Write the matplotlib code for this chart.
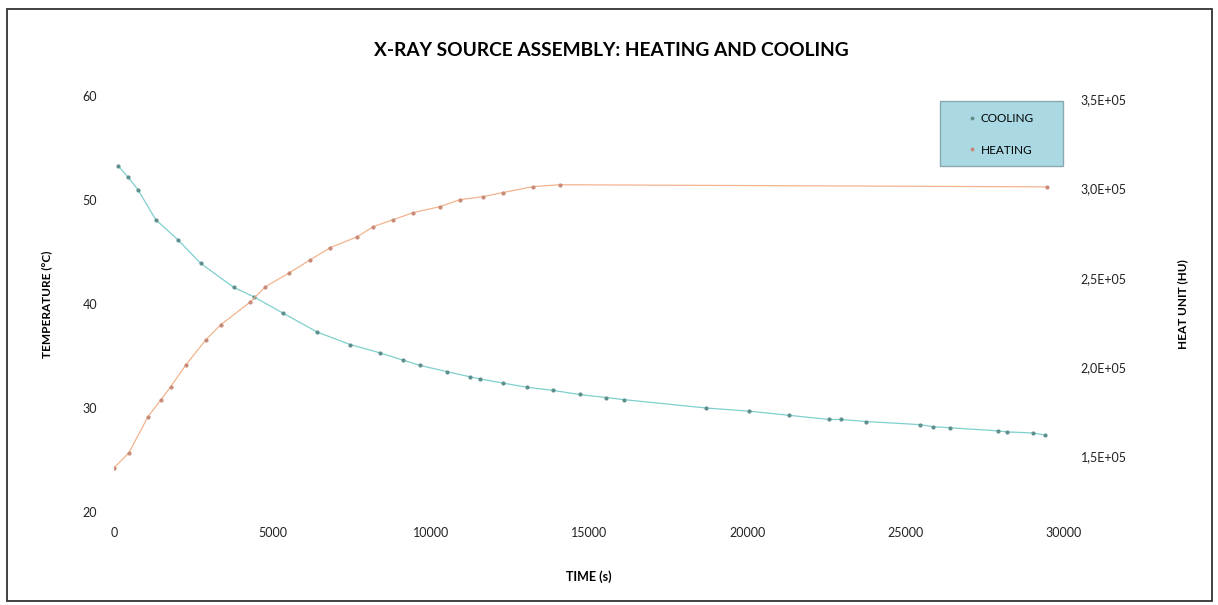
import matplotlib.pyplot as plt
from matplotlib.patches import Rectangle
from matplotlib.ticker import FixedLocator, FuncFormatter

plt.rcParams["font.family"] = ["Lato", "DejaVu Sans"]

# cooling: time (s) vs temperature (°C), left axis
cool_t = [130, 440, 755, 1320, 2010, 2740, 3780, 4410, 5350, 6420, 7460,
          8400, 9130, 9660, 10510, 11240, 11550, 12280, 13030, 13850, 14700,
          15550, 16120, 18700, 20050, 21310, 22570, 22950, 23760, 25460,
          25870, 26410, 27920, 28200, 29020, 29400]
cool_temp = [53.3, 52.2, 51.0, 48.1, 46.2, 43.9, 41.6, 40.7, 39.1, 37.3, 36.1,
             35.3, 34.6, 34.1, 33.5, 33.0, 32.8, 32.4, 32.0, 31.7, 31.3,
             31.0, 30.8, 30.0, 29.7, 29.3, 28.9, 28.9, 28.7, 28.4,
             28.2, 28.1, 27.8, 27.7, 27.6, 27.4]

# heating: time (s) vs heat units (HU), right axis
heat_t = [0, 470, 1070, 1480, 1790, 2270, 2900, 3370, 4310, 4780, 5540,
          6200, 6830, 7680, 8190, 8820, 9440, 10290, 10920, 11650, 12280,
          13220, 14070, 29460]
heat_hu = [1.433e5, 1.517e5, 1.719e5, 1.815e5, 1.888e5, 2.011e5, 2.152e5,
           2.236e5, 2.365e5, 2.449e5, 2.528e5, 2.601e5, 2.669e5, 2.730e5,
           2.787e5, 2.826e5, 2.865e5, 2.899e5, 2.938e5, 2.955e5, 2.978e5,
           3.011e5, 3.022e5, 3.010e5]

x_ticks = [0, 5000, 10000, 15000, 20000, 25000, 30000]
temp_ticks = [20, 30, 40, 50, 60]
hu_ticks = [1.5e5, 2.0e5, 2.5e5, 3.0e5, 3.5e5]

fig = plt.figure(figsize=(12.18, 6.05), dpi=100)
ax = fig.add_axes([0.0936, 0.1537, 0.78, 0.6876])
ax2 = ax.twinx()

ax.plot(cool_t, cool_temp, color="#7fd0cc", lw=0.9, marker="o", ms=2.0,
        mfc="#5e8f8d", mec="#5e8f8d", label="COOLING", zorder=3)
ax2.plot(heat_t, heat_hu, color="#f2b48e", lw=0.9, marker="o", ms=2.0,
         mfc="#c98a78", mec="#c98a78", label="HEATING", zorder=3)

ax.set_xlim(0, 30000)
ax.set_ylim(20, 60)
ax2.set_ylim(1.185e5, 3.52e5)

ax.xaxis.set_major_locator(FixedLocator(x_ticks))
ax.yaxis.set_major_locator(FixedLocator(temp_ticks))
ax2.yaxis.set_major_locator(FixedLocator(hu_ticks))
ax2.yaxis.set_major_formatter(
    FuncFormatter(lambda v, p: f"{v / 1e5:.1f}E+05".replace(".", ",")))

for a in (ax, ax2):
    for s in a.spines.values():
        s.set_visible(False)
    a.tick_params(length=0, labelsize=9, colors="#222222")
ax.tick_params(axis="x", pad=11)
ax.tick_params(axis="y", pad=12)
ax2.tick_params(axis="y", pad=12)

ax.set_xlabel("TIME (s)", fontsize=9, fontweight="bold", labelpad=22)
ax.set_ylabel("TEMPERATURE (°C)", fontsize=8.5, fontweight="bold", labelpad=22)
ax2.set_ylabel("HEAT UNIT (HU)", fontsize=8.5, fontweight="bold",
               rotation=90, labelpad=36)

fig.text(0.502, 0.917, "X-RAY SOURCE ASSEMBLY: HEATING AND COOLING",
         ha="center", va="center", fontsize=13.8, fontweight="bold")

# legend box drawn separately so its size can match the original
ax2.add_patch(Rectangle((0.869, 0.832), 0.13, 0.156, transform=ax2.transAxes,
                        facecolor="#aad9e3", edgecolor="#8aa9b0", lw=1.0,
                        zorder=4, clip_on=False))
h1, l1 = ax.get_legend_handles_labels()
h2, l2 = ax2.get_legend_handles_labels()
leg = ax2.legend(h1 + h2, l1 + l2, loc="center left",
                 bbox_to_anchor=(0.895, 0.908), fontsize=8.5, frameon=False,
                 handlelength=0.5, markerscale=0.9, labelspacing=1.75,
                 handletextpad=0.5, borderaxespad=0)
leg.set_zorder(5)
for line in leg.get_lines():
    line.set_linestyle("none")

fig.add_artist(Rectangle((0.006, 0.007), 0.989, 0.978,
                         transform=fig.transFigure, fill=False,
                         edgecolor="#333333", lw=1.3))

fig.savefig("out.png", dpi=100)
